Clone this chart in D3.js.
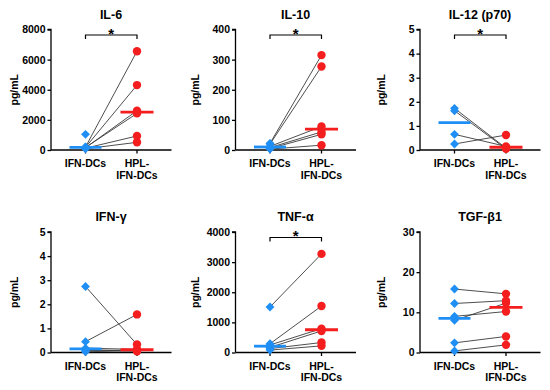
<!DOCTYPE html>
<html><head><meta charset="utf-8">
<script src="https://cdn.jsdelivr.net/npm/d3@7"></script>
<style>
html,body{margin:0;padding:0;background:#fff;}
text{font-family:"Liberation Sans",Arial,sans-serif;font-weight:bold;fill:#000;}
</style></head>
<body><svg id="c" width="550" height="390"></svg>
<script>
// ---- data ----
const titles = ["IL-6", "IL-10", "IL-12 (p70)", "IFN-γ", "TNF-α", "TGF-β1"];
const groups = ["IFN-DCs", "HPL-IFN-DCs"];
const groupLabelLines = [["IFN-DCs"], ["HPL-", "IFN-DCs"]];
const yMaxes = [8000, 400, 5, 5, 4000, 30];
const yTickValues = [
  [0, 2000, 4000, 6000, 8000],
  [0, 100, 200, 300, 400],
  [0, 1, 2, 3, 4, 5],
  [0, 1, 2, 3, 4, 5],
  [0, 1000, 2000, 3000, 4000],
  [0, 10, 20, 30]
];
// paired donor values (null = no paired value)
const ifnDCs = [
  [200, 180, 150, 170, 120, 80, 1040],
  [22, 20, 12, 8, 5, 3],
  [1.73, 1.63, 0.65, 0.25],
  [2.74, 0.45, 0.18, 0.12, 0.08, 0.03],
  [1510, 290, 250, 170, 130, 80],
  [15.8, 12.2, 9.0, 8.0, 2.4, 0.4]
];
const hplIfnDCs = [
  [6560, 4310, 2610, 2430, 930, 510, null],
  [315, 277, 78, 60, 52, 16],
  [0.08, 0.05, 0.15, 0.62],
  [0.33, 1.58, 0.13, 0.05, 0.10, 0.08],
  [3273, 1543, 793, 716, 331, 220],
  [14.6, 12.9, 10.2, 12.3, 4.0, 1.9]
];
const significant = [true, true, true, false, true, false];
const yLabel = "pg/mL";

// ---- layout ----
const colX = [51, 235.5, 420];
const rowTop = [29.5, 232];
const plotW = 120.5, plotH = 120.5;
const yLabelX = [18, 199, 385];
const blue = "#1f8ef5", red = "#f51e1e";

const svg = d3.select("#c");

titles.forEach((title, i) => {
  const col = i % 3, row = Math.floor(i / 3);
  const x0 = colX[col], top = rowTop[row], bottom = top + plotH;
  const g = svg.append("g");
  const y = d3.scaleLinear().domain([0, yMaxes[i]]).range([bottom, top]);
  const x = d3.scalePoint().domain(groups).range([x0 + 34.5, x0 + 86]);

  // title
  g.append("text").attr("x", x0 + 60).attr("y", top - 11)
    .attr("text-anchor", "middle").style("font-size", "12.5px").text(title);

  // y label
  g.append("text").attr("transform", `translate(${yLabelX[col]},${(top + bottom) / 2}) rotate(-90)`)
    .attr("text-anchor", "middle").style("font-size", "10.5px").text(yLabel);

  // y axis
  const ya = g.append("g").attr("transform", `translate(${x0},0)`)
    .call(d3.axisLeft(y).tickValues(yTickValues[i]).tickSize(3.5).tickPadding(2).tickFormat(d3.format("d")));
  ya.selectAll("path,line").attr("stroke", "#000").attr("stroke-width", 1.3);
  ya.selectAll("text").style("font-size", "10.5px").style("font-weight", "bold")
    .style("font-family", '"Liberation Sans",Arial,sans-serif');
  ya.select(".domain").attr("d", `M0,${bottom}V${top}H-3.5`);

  // x axis
  g.append("line").attr("x1", x0).attr("x2", x0 + plotW).attr("y1", bottom).attr("y2", bottom)
    .attr("stroke", "#000").attr("stroke-width", 1.3);
  groups.forEach((grp, k) => {
    g.append("line").attr("x1", x(grp)).attr("x2", x(grp)).attr("y1", bottom).attr("y2", bottom + 3.5)
      .attr("stroke", "#000").attr("stroke-width", 1.3);
    groupLabelLines[k].forEach((ln, j) => {
      g.append("text").attr("x", x(grp)).attr("y", bottom + 17 + j * 11.5)
        .attr("text-anchor", "middle").style("font-size", "10.5px").text(ln);
    });
  });

  const a = ifnDCs[i], b = hplIfnDCs[i];
  // connecting lines
  a.forEach((v, k) => {
    if (v == null || b[k] == null) return;
    g.append("line").attr("x1", x(groups[0])).attr("y1", y(v))
      .attr("x2", x(groups[1])).attr("y2", y(b[k]))
      .attr("stroke", "#3a3a3a").attr("stroke-width", 0.9);
  });
  // blue diamonds
  g.selectAll(".dia").data(a.filter(v => v != null)).join("path")
    .attr("d", d3.symbol(d3.symbolDiamond2, 50))
    .attr("transform", d => `translate(${x(groups[0])},${y(d)})`)
    .attr("fill", blue);
  // red circles
  g.selectAll(".cir").data(b.filter(v => v != null)).join("circle")
    .attr("cx", x(groups[1])).attr("cy", d => y(d)).attr("r", 4.2).attr("fill", red);

  // medians
  const mA = d3.median(a.filter(v => v != null)), mB = d3.median(b.filter(v => v != null));
  g.append("line").attr("x1", x(groups[0]) - 16).attr("x2", x(groups[0]) + 16)
    .attr("y1", y(mA)).attr("y2", y(mA)).attr("stroke", blue).attr("stroke-width", 2.8);
  g.append("line").attr("x1", x(groups[1]) - 16.5).attr("x2", x(groups[1]) + 16.5)
    .attr("y1", y(mB)).attr("y2", y(mB)).attr("stroke", red).attr("stroke-width", 2.8);

  // significance bracket
  if (significant[i]) {
    const by = top + 5.5;
    g.append("path").attr("d", `M${x(groups[0])},${by + 4}V${by}H${x(groups[1])}V${by + 4}`)
      .attr("fill", "none").attr("stroke", "#000").attr("stroke-width", 1.2);
    g.append("text").attr("x", (x(groups[0]) + x(groups[1])) / 2).attr("y", by + 3.5)
      .attr("text-anchor", "middle").style("font-size", "15px").text("*");
  }
});
</script></body></html>
